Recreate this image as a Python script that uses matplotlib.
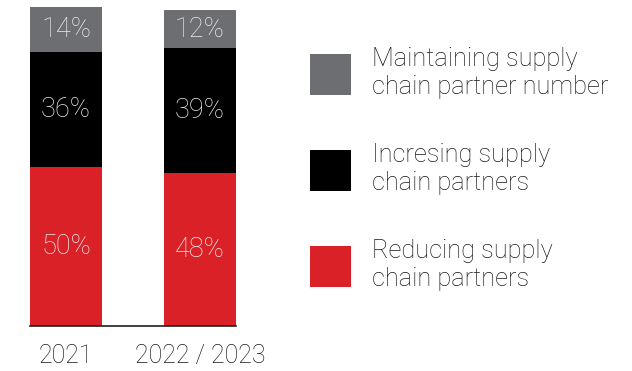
import matplotlib.pyplot as plt
from matplotlib.patches import Patch

plt.rcParams["font.family"] = ["Roboto", "DejaVu Sans"]
plt.rcParams["font.weight"] = "light"

years = ["2021", "2022 / 2023"]
reducing = [50, 48]
increasing = [36, 39]
maintaining = [14, 12]

series = [
    ("Reducing supply\nchain partners", reducing, "#da2128"),
    ("Incresing supply\nchain partners", increasing, "#000000"),
    ("Maintaining supply\nchain partner number", maintaining, "#6d6e71"),
]

W, H = 632, 371
fig = plt.figure(figsize=(W / 100, H / 100), dpi=100)
# axes box in pixel terms: x 30..236, baseline at y=326, 100% = 319 px
ax = fig.add_axes([30 / W, (H - 326) / H, 206 / W, 319 / H])

x = list(range(len(years)))
bottom = [0] * len(years)
for name, vals, color in series:
    bars = ax.bar(x, vals, width=0.535, bottom=bottom, color=color, label=name)
    for b, v, base in zip(bars, vals, bottom):
        ax.text(b.get_x() + b.get_width() / 2, base + v / 2, f"{v}%",
                ha="center", va="center", color="#ebebeb", fontsize=19.5)
    bottom = [b + v for b, v in zip(bottom, vals)]

ax.set_xlim(-0.27, 1.27)
ax.set_ylim(0, 100)
ax.set_yticks([])
ax.set_xticks(x)
ax.set_xticklabels(years, fontsize=18, color="#1a1a1a")
ax.tick_params(axis="x", length=0, pad=13)
for side in ["top", "right", "left"]:
    ax.spines[side].set_visible(False)
ax.spines["bottom"].set_color("#231f20")
ax.spines["bottom"].set_linewidth(1.2)

handles = [Patch(facecolor=c, label=n) for n, _, c in reversed(series)]
fig.legend(handles=handles, loc="center left",
           bbox_to_anchor=(287 / W, 1 - 169 / H),
           frameon=False, handlelength=1.6, handleheight=2.1,
           handletextpad=0.85, labelspacing=1.74, labelcolor="#1a1a1a",
           prop={"size": 18.3, "weight": "light"})

fig.savefig("out.png", dpi=100)
